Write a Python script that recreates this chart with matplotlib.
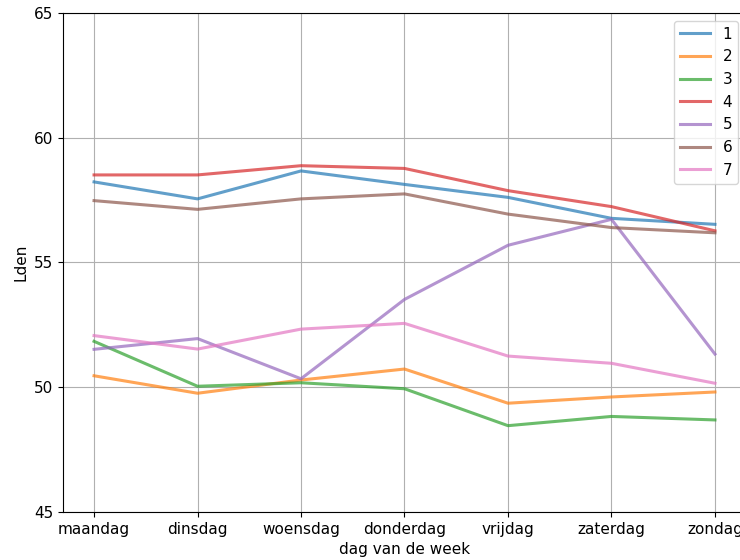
import matplotlib
matplotlib.use("Agg")
import matplotlib.pyplot as plt

days = ["maandag", "dinsdag", "woensdag", "donderdag", "vrijdag", "zaterdag", "zondag"]

s1 = [58.23, 57.55, 58.67, 58.13, 57.61, 56.77, 56.53]
s2 = [50.46, 49.76, 50.29, 50.73, 49.36, 49.61, 49.81]
s3 = [51.84, 50.04, 50.18, 49.94, 48.46, 48.83, 48.69]
s4 = [58.51, 58.51, 58.88, 58.77, 57.88, 57.24, 56.27]
s5 = [51.52, 51.95, 50.34, 53.52, 55.69, 56.73, 51.33]
s6 = [57.48, 57.13, 57.55, 57.75, 56.94, 56.40, 56.19]
s7 = [52.07, 51.53, 52.33, 52.56, 51.25, 50.96, 50.16]

series = {"1": s1, "2": s2, "3": s3, "4": s4, "5": s5, "6": s6, "7": s7}

plt.rcParams["font.size"] = 11

fig = plt.figure(figsize=(7.4, 5.6), dpi=100)
# axes extend past the right edge, as in the cropped original
ax = fig.add_axes([63 / 740, 1 - 512 / 560, 683 / 740, 499 / 560])

for name, vals in series.items():
    ax.plot(days, vals, label=name, alpha=0.7, linewidth=2.2)

ax.set_ylim(45, 65)
ax.set_yticks([45, 50, 55, 60, 65])
ax.grid(True)
ax.set_xlabel("dag van de week")
ax.set_ylabel("Lden")
ax.legend(loc="upper right")

fig.savefig("out.png", dpi=100)
